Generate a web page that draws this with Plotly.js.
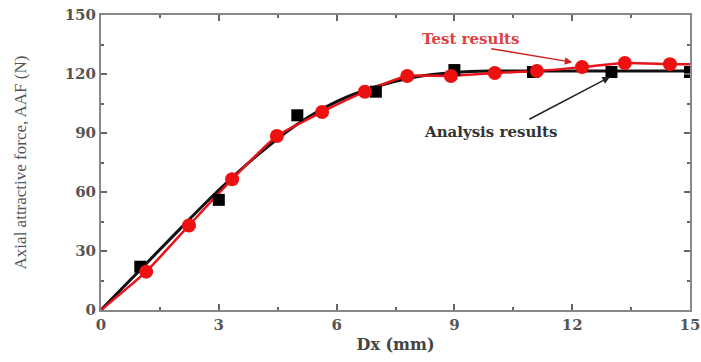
<!DOCTYPE html>
<html>
<head>
<meta charset="utf-8">
<script src="https://cdn.plot.ly/plotly-3.0.1.min.js"></script>
<style>html,body{margin:0;padding:0;background:#fff;}#chart{width:701px;height:362px;}</style>
</head>
<body>
<div id="chart"></div>
<script>
// Analysis results: markers
const analysisX = [1, 3, 5, 7, 9, 11, 13, 15];
const analysisY = [22, 56, 99, 111, 122, 121, 121, 121];
// Analysis results: smooth curve
const analysisCurveX = [0, 1, 2, 3, 4, 5, 6, 7, 8, 9, 10, 11, 12, 13, 14, 15];
const analysisCurveY = [0, 20.5, 41, 61, 79, 94.5, 106, 113.5, 118.5, 120.8, 121.5, 121.5, 121.5, 121.5, 121.5, 121.5];
// Test results (red circles + red line)
const testX = [1.15, 2.24, 3.34, 4.48, 5.63, 6.72, 7.8, 8.91, 10.03, 11.1, 12.25, 13.34, 14.49];
const testY = [19.5, 43, 66.5, 88.5, 100.7, 111, 119, 119, 120.5, 121.5, 123.5, 125.6, 125];
const testLineX = [0].concat(testX, [15]);
const testLineY = [0].concat(testY, [125]);
const xTicks = [0, 3, 6, 9, 12, 15];
const yTicks = [0, 30, 60, 90, 120, 150];

const serif = 'DejaVu Serif, serif';
const narrowSerif = 'Liberation Serif, Times New Roman, serif';

const traces = [
  {
    x: analysisCurveX, y: analysisCurveY, type: 'scatter', mode: 'lines',
    line: {color: '#111', width: 3, shape: 'spline', smoothing: 1},
    hoverinfo: 'skip', showlegend: false
  },
  {
    x: testLineX, y: testLineY, type: 'scatter', mode: 'lines',
    line: {color: '#e8141b', width: 2.5, shape: 'spline', smoothing: 0.5},
    hoverinfo: 'skip', showlegend: false
  },
  {
    x: analysisX, y: analysisY, type: 'scatter', mode: 'markers',
    marker: {symbol: 'square', size: 12, color: '#000'},
    showlegend: false
  },
  {
    x: testX, y: testY, type: 'scatter', mode: 'markers',
    marker: {symbol: 'circle', size: 14, color: '#ee1111'},
    showlegend: false
  }
];

const axisCommon = {
  showgrid: false, zeroline: false,
  showline: true, linecolor: '#888', linewidth: 2, mirror: 'ticks',
  ticks: 'inside', ticklen: 6, tickwidth: 2, tickcolor: '#666',
  tickfont: {family: serif, size: 15, color: '#555', weight: 'bold'}
};

const layout = {
  width: 701, height: 362,
  margin: {l: 101, r: 11, t: 15, b: 52},
  paper_bgcolor: '#fff', plot_bgcolor: '#fff',
  xaxis: Object.assign({}, axisCommon, {
    range: [0, 15], tickvals: xTicks, ticktext: xTicks.map(String),
    minor: {ticks: 'inside', dtick: 1.5, tick0: 0, ticklen: 3, tickcolor: '#666', tickwidth: 2},
    title: {text: 'Dx (mm)', font: {family: serif, size: 16, color: '#444', weight: 'bold'}, standoff: 6}
  }),
  yaxis: Object.assign({}, axisCommon, {
    range: [0, 150], tickvals: yTicks, ticktext: yTicks.map(String),
    minor: {ticks: 'inside', dtick: 15, tick0: 0, ticklen: 3, tickcolor: '#666', tickwidth: 2},
    title: {text: 'Axial attractive force, AAF (N)', font: {family: narrowSerif, size: 17, color: '#555'}, standoff: 34}
  }),
  annotations: [
    {x: 9.4, y: 138, xref: 'x', yref: 'y', text: 'Test results', showarrow: false,
     font: {family: serif, size: 15, color: '#e04040', weight: 'bold'}},
    {x: 12.0, y: 126, ax: 9.9, ay: 133, axref: 'x', ayref: 'y', xref: 'x', yref: 'y',
     text: '', showarrow: true, arrowhead: 2, arrowsize: 1, arrowwidth: 1.5, arrowcolor: '#d02020'},
    {x: 9.93, y: 90.5, xref: 'x', yref: 'y', text: 'Analysis results', showarrow: false,
     font: {family: serif, size: 15, color: '#333', weight: 'bold'}},
    {x: 12.96, y: 118.5, ax: 10.87, ay: 96.6, axref: 'x', ayref: 'y', xref: 'x', yref: 'y',
     text: '', showarrow: true, arrowhead: 2, arrowsize: 1, arrowwidth: 1.5, arrowcolor: '#222'}
  ]
};

Plotly.newPlot('chart', traces, layout, {displayModeBar: false, staticPlot: true});
</script>
</body>
</html>
